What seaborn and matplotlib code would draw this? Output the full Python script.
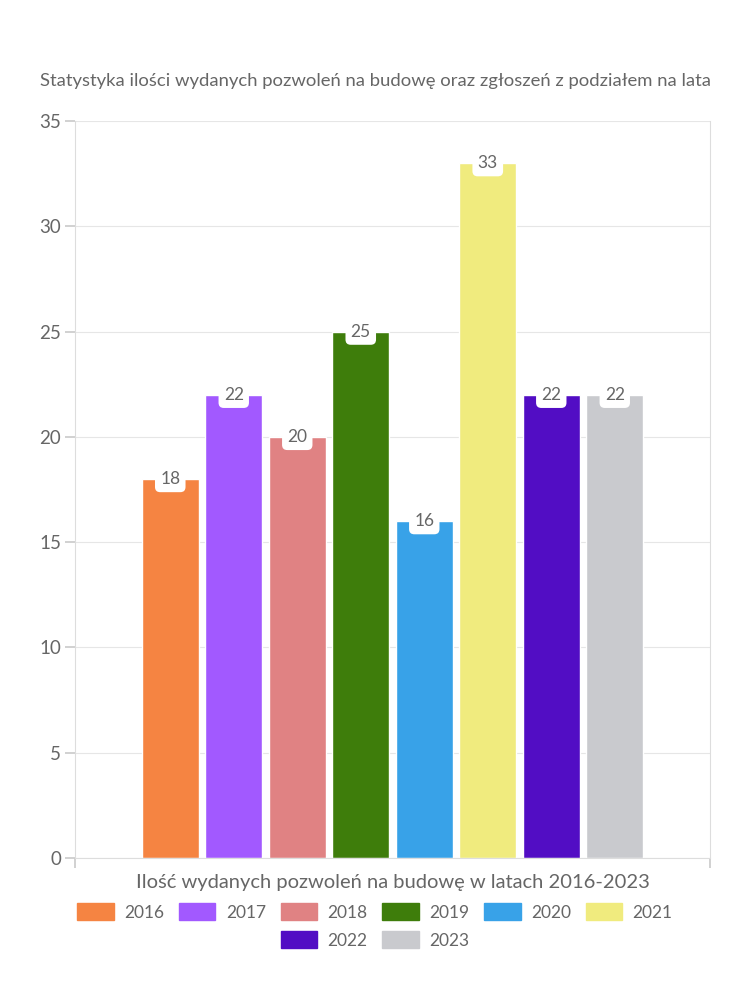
import matplotlib
matplotlib.use("Agg")
import matplotlib.pyplot as plt
import matplotlib.patches as mpatches
import pandas as pd
import seaborn as sns

# data
YEARS = ["2016", "2017", "2018", "2019", "2020", "2021", "2022", "2023"]
PERMITS = [18, 22, 20, 25, 16, 33, 22, 22]
COLORS = ["#F58442", "#A259FF", "#E08283", "#3E7D0B",
          "#38A2E8", "#F0EB7E", "#520DC4", "#C9CACE"]
Y_TICKS = [0, 5, 10, 15, 20, 25, 30, 35]

TITLE = "Statystyka ilości wydanych pozwoleń na budowę oraz zgłoszeń z podziałem na lata"
XLABEL = "Ilość wydanych pozwoleń na budowę w latach 2016-2023"

TEXT = "#666666"
GRID = "#E6E6E6"

sns.set_theme(style="white")
plt.rcParams["font.family"] = ["Lato", "DejaVu Sans"]

df = pd.DataFrame({"grp": [""] * len(YEARS), "year": YEARS, "value": PERMITS})

fig = plt.figure(figsize=(7.5, 10), dpi=100)
ax = fig.add_axes([0.1, 0.142, 0.8467, 0.737])

sns.barplot(data=df, x="grp", y="value", hue="year", hue_order=YEARS,
            palette=COLORS, width=0.8, gap=0.1, saturation=1,
            legend=False, ax=ax)

ax.set_xlim(-0.5, 0.5)
ax.set_ylim(0, 35)
ax.set_yticks(Y_TICKS)
ax.set_xticks([-0.5, 0.5])
ax.set_xticklabels(["", ""])
ax.grid(axis="y", color=GRID, lw=0.8)
ax.set_axisbelow(True)
for side in ["left", "right", "bottom", "top"]:
    ax.spines[side].set_color("#DDDDDD")
    ax.spines[side].set_linewidth(0.8)
ax.spines["top"].set_visible(False)
ax.tick_params(axis="y", length=7, color="#CCCCCC", labelsize=13.5,
               labelcolor=TEXT, pad=3, left=True)
ax.tick_params(axis="x", length=7, color="#CCCCCC", bottom=True)
ax.set_ylabel("")
ax.set_xlabel(XLABEL, fontsize=14.5, color=TEXT, labelpad=1)

# value labels on top of bars
for p, val in zip(ax.patches, PERMITS):
    ax.text(p.get_x() + p.get_width() / 2, p.get_height(), f"{val}",
            ha="center", va="center", fontsize=12.5, color=TEXT,
            bbox=dict(boxstyle="round,pad=0.3,rounding_size=0.3",
                      fc="white", ec="none"))

fig.text(0.5, 0.919, TITLE, ha="center", va="center", fontsize=13.3, color=TEXT)

handles = [mpatches.Patch(color=c, label=y) for c, y in zip(COLORS, YEARS)]
leg_kw = dict(frameon=False, fontsize=12.5, handlelength=2.1, handleheight=1.1,
              handletextpad=0.6, columnspacing=0.85, labelcolor=TEXT,
              loc="center")
leg1 = fig.legend(handles=handles[:6], ncol=6, bbox_to_anchor=(0.5, 0.088), **leg_kw)
leg2 = fig.legend(handles=handles[6:], ncol=2, bbox_to_anchor=(0.5, 0.060), **leg_kw)

fig.savefig("out.png", dpi=100, facecolor="white")
